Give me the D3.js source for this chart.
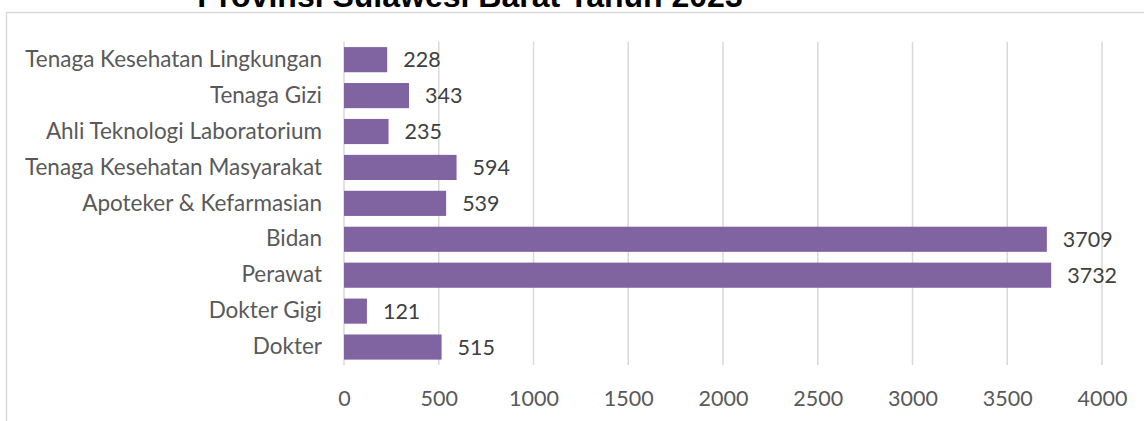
<!DOCTYPE html>
<html><head><meta charset="utf-8">
<script src="https://cdn.jsdelivr.net/npm/d3@7"></script>
<style>body{margin:0;background:#fff}svg{display:block}</style>
</head><body>
<svg id="c" width="1144" height="421"></svg>
<script>
const categories = ["Tenaga Kesehatan Lingkungan","Tenaga Gizi","Ahli Teknologi Laboratorium","Tenaga Kesehatan Masyarakat","Apoteker & Kefarmasian","Bidan","Perawat","Dokter Gigi","Dokter"];
const values = [228,343,235,594,539,3709,3732,121,515];
const tickValues = [0,500,1000,1500,2000,2500,3000,3500,4000];
const title = "Provinsi Sulawesi Barat Tahun 2023";

const svg = d3.select("#c");
const font = "Lato, 'Open Sans', sans-serif";
svg.append("rect").attr("x",6.5).attr("y",12.5).attr("width",1200).attr("height",500)
  .attr("fill","#fff").attr("stroke","#d9d9d9").attr("stroke-width",1.5);
svg.append("text").attr("x",470).attr("y",7).attr("text-anchor","middle")
  .attr("font-family","Arial, 'Liberation Sans', sans-serif").attr("font-weight","bold")
  .attr("font-size",32).attr("fill","#000").text(title);

const x = d3.scaleLinear().domain([0,4000]).range([344,1102]);
const y = d3.scaleBand().domain(categories).range([41.7,365]).paddingInner(0.3).paddingOuter(0.15);

const grid = svg.append("g");
grid.selectAll("line").data(tickValues).join("line")
  .attr("x1",d=>x(d)).attr("x2",d=>x(d)).attr("y1",41.7).attr("y2",365)
  .attr("stroke","#d9d9d9").attr("stroke-width",1.5);

svg.append("g").selectAll("rect").data(values).join("rect")
  .attr("x",x(0)).attr("y",(d,i)=>y(categories[i]))
  .attr("width",d=>x(d)-x(0)).attr("height",y.bandwidth()).attr("fill","#8064a2");

svg.append("g").selectAll("text").data(values).join("text")
  .attr("x",d=>x(d)+16).attr("y",(d,i)=>y(categories[i])+y.bandwidth()/2+7.5)
  .attr("font-family",font).attr("font-size",21.5).attr("fill","#404040").text(d=>d);

const yAxis = d3.axisLeft(y).tickSize(0).tickPadding(22);
const ya = svg.append("g").attr("transform",`translate(${x(0)},0)`).call(yAxis);
ya.select(".domain").remove();
ya.selectAll("text").attr("font-family",font).attr("font-size",22.5).attr("fill","#595959");

const xAxis = d3.axisBottom(x).tickValues(tickValues).tickSize(0).tickPadding(0).tickFormat(d3.format("d"));
const xa = svg.append("g").attr("transform","translate(0,0)").call(xAxis);
xa.select(".domain").remove();
xa.selectAll("text").attr("y",406).attr("dy",null).attr("font-family",font).attr("font-size",21.5).attr("fill","#595959");
</script>
</body></html>
